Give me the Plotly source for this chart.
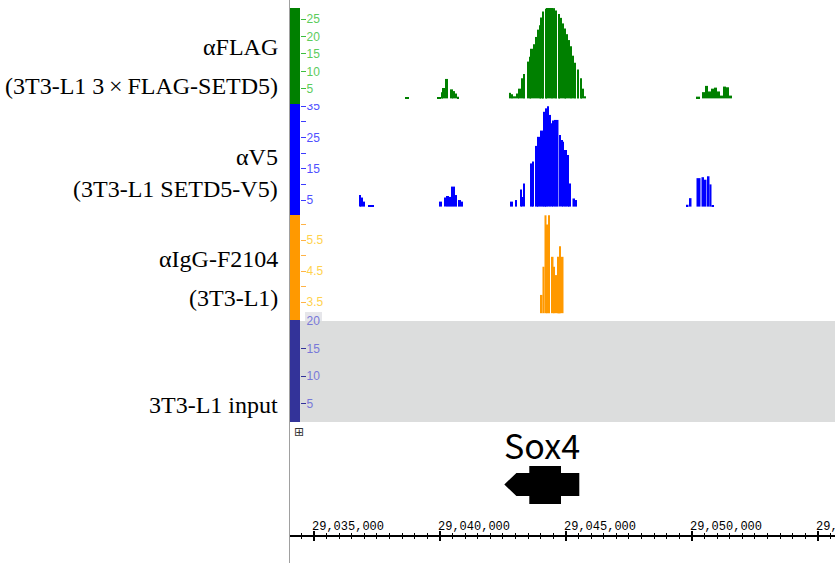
import plotly.graph_objects as go

# ---------------- data ----------------
view_start, view_end = 29034048, 29055675

flag_start = [29038611, 29039881, 29040040, 29040119, 29040198, 29040397, 29040516, 29040595, 29040675,
              29042738, 29042818, 29042897, 29043016, 29043135, 29043214, 29043294,
              29043452, 29043532, 29043611, 29043690, 29043770, 29043849, 29043929, 29044008, 29044087,
              29044167, 29044246, 29044325, 29044405, 29044484, 29044564,
              29044683, 29044762, 29044841, 29044921, 29045000, 29045079, 29045159, 29045238, 29045318,
              29045437, 29045556, 29045635, 29045714,
              29050159, 29050397, 29050516, 29050635, 29050754, 29050873, 29050992, 29051111, 29051230,
              29051349, 29051468]
flag_end = [29038770, 29040040, 29040119, 29040198, 29040317, 29040516, 29040595, 29040675, 29040754,
            29042818, 29042897, 29043016, 29043135, 29043214, 29043294, 29043373,
            29043532, 29043611, 29043690, 29043770, 29043849, 29043929, 29044008, 29044087, 29044127,
            29044246, 29044325, 29044405, 29044484, 29044564, 29044643,
            29044762, 29044841, 29044921, 29045000, 29045079, 29045159, 29045238, 29045318, 29045397,
            29045516, 29045635, 29045714, 29045794,
            29050317, 29050516, 29050635, 29050754, 29050873, 29050992, 29051111, 29051230, 29051349,
            29051468, 29051587]
flag_value = [2.5, 2.6, 4.0, 5.2, 7.8, 4.8, 4.3, 3.6, 2.7,
              3.8, 3.4, 2.8, 3.6, 5.0, 8.0, 9.2,
              12.8, 14.2, 16.5, 17.8, 19.9, 22.0, 23.3, 25.5, 27.2,
              28.0, 28.3, 28.6, 28.4, 28.2, 27.5,
              26.5, 25.4, 23.8, 22.3, 20.7, 19.0, 17.2, 14.5, 12.5,
              10.5, 8.0, 5.0, 2.8,
              2.7, 4.0, 5.8, 4.2, 5.0, 5.3, 4.2, 3.0, 5.6, 5.4, 3.0]

v5_start = [29036786, 29036865, 29036944, 29037143,
            29040000, 29040159, 29040238, 29040357, 29040437, 29040595, 29040754, 29040833,
            29042778, 29042976, 29043175, 29043254, 29043294, 29043571, 29043690, 29043770, 29043889,
            29043968, 29044127, 29044206, 29044266, 29044325, 29044405, 29044464, 29044524, 29044742,
            29044802, 29044861, 29044921, 29045040, 29045119, 29045258, 29045357,
            29049782, 29049901, 29050179, 29050377, 29050476, 29050595, 29050694, 29050774]
v5_end = [29036865, 29036944, 29037024, 29037381,
          29040079, 29040238, 29040357, 29040437, 29040595, 29040675, 29040833, 29040913,
          29042897, 29043056, 29043254, 29043294, 29043373, 29043690, 29043730, 29043889, 29043968,
          29044107, 29044206, 29044266, 29044325, 29044405, 29044464, 29044524, 29044702, 29044802,
          29044861, 29044921, 29045040, 29045119, 29045198, 29045357, 29045437,
          29049861, 29049980, 29050337, 29050476, 29050575, 29050694, 29050774, 29050873]
v5_value = [6.6, 5.8, 4.5, 3.3,
            4.5, 5.8, 6.3, 6.0, 9.3, 6.6, 5.0, 4.5,
            4.5, 5.0, 8.4, 6.0, 10.3, 16.7, 17.3, 22.3, 25.2,
            27.2, 33.2, 34.3, 35.0, 32.2, 29.5, 30.4, 30.6, 25.8,
            24.2, 23.6, 21.0, 19.4, 10.3, 5.5, 5.0,
            3.5, 5.6, 12.0, 12.3, 11.5, 12.6, 10.0, 3.4]

igg_start = [29043968, 29044067, 29044147, 29044226, 29044286, 29044405, 29044504, 29044564,
             29044663, 29044702, 29044742, 29044782]
igg_end = [29044067, 29044147, 29044226, 29044286, 29044345, 29044504, 29044564, 29044663,
           29044702, 29044742, 29044782, 29044901]
igg_value = [3.73, 4.64, 6.3, 6.0, 6.3, 4.96, 4.64, 4.37, 4.96, 4.7, 5.3, 4.96]

input_start, input_end, input_value = [], [], []

flag_ticks = [5, 10, 15, 20, 25]
flag_ticklabels = ["5", "10", "15", "20", "25"]
v5_ticks = [5, 10, 15, 20, 25, 30, 35]
v5_ticklabels = ["5", "", "15", "", "25", "", "35"]
igg_ticks = [3.5, 4.0, 4.5, 5.0, 5.5, 6.0]
igg_ticklabels = ["3.5", "", "4.5", "", "5.5", ""]
input_ticks = [5, 10, 15, 20]
input_ticklabels = ["5", "10", "15", "20"]

ruler_ticks = [29035000, 29040000, 29045000, 29050000, 29055000]
ruler_ticklabels = ["29,035,000", "29,040,000", "29,045,000", "29,050,000", "29,055,000"]

gene_name = "Sox4"
gene_tx_start, gene_cds_start, gene_cds_end, gene_tx_end = 29042552, 29043544, 29044802, 29045528

track_names = [["αFLAG", "(3T3-L1 3\u2009×\u2009FLAG-SETD5)"],
               ["αV5", "(3T3-L1 SETD5-V5)"],
               ["αIgG-F2104", "(3T3-L1)"],
               ["3T3-L1 input"]]

# ---------------- layout helpers ----------------
W, H = 835, 563
def px_x(p):
    return p / W
def px_y(p):
    return 1 - p / H

tracks = [
    dict(s=flag_start, e=flag_end, v=flag_value, base=2.2, color="#008000", top=8, bot=104,
         rng=[0.58, 28.24], ticks=flag_ticks, labels=flag_ticklabels,
         tickcol="#3fbf3f", labcol="#5ccc5c", names=track_names[0], name_y=[47, 86]),
    dict(s=v5_start, e=v5_end, v=v5_value, base=2.9, color="#0000ff", top=104, bot=215,
         rng=[0.22, 35.69], ticks=v5_ticks, labels=v5_ticklabels,
         tickcol="#3b3bff", labcol="#5050ff", names=track_names[1], name_y=[157, 189]),
    dict(s=igg_start, e=igg_end, v=igg_value, base=3.14, color="#ff9900", top=215, bot=320,
         rng=[2.92, 6.31], ticks=igg_ticks, labels=igg_ticklabels,
         tickcol="#ffb347", labcol="#ffd24d", names=track_names[2], name_y=[259, 298]),
    dict(s=input_start, e=input_end, v=input_value, base=0, color="#333399", top=320, bot=422,
         rng=[1.73, 20.1], ticks=input_ticks, labels=input_ticklabels,
         tickcol="#333399", labcol="#7878d8", names=track_names[3], name_y=[405]),
]

fig = go.Figure()
layout = dict(
    width=W, height=H, margin=dict(l=0, r=0, t=0, b=0, autoexpand=False),
    paper_bgcolor="white", plot_bgcolor="rgba(0,0,0,0)",
    showlegend=False, barmode="overlay",
)
shapes = []
annotations = []

for i, t in enumerate(tracks):
    yname = "y" if i == 0 else f"y{i+1}"
    ykey = "yaxis" if i == 0 else f"yaxis{i+1}"
    centers = [(a + b) / 2 for a, b in zip(t["s"], t["e"])]
    widths = [b - a for a, b in zip(t["s"], t["e"])]
    heights = [v - t["base"] for v in t["v"]]
    fig.add_trace(go.Bar(x=centers, y=heights, width=widths, base=t["base"],
                         marker=dict(color=t["color"], line=dict(width=0)),
                         xaxis="x", yaxis=yname, hoverinfo="skip"))
    layout[ykey] = dict(
        domain=[px_y(t["bot"]), px_y(t["top"])], range=t["rng"], anchor="free",
        position=px_x(300), side="left", showgrid=False, zeroline=False, showline=False,
        tickmode="array", tickvals=t["ticks"], ticktext=t["labels"],
        ticks="inside", ticklen=5, tickwidth=1, tickcolor=t["tickcol"],
        ticklabelposition="inside", ticklabeloverflow="allow", automargin=False,
        tickfont=dict(family="Liberation Sans, Arial", size=12, color=t["labcol"]),
        fixedrange=True,
    )
    # coloured strip at the left of each track
    shapes.append(dict(type="rect", xref="paper", yref="paper", x0=px_x(290), x1=px_x(300),
                       y0=px_y(t["bot"]), y1=px_y(t["top"]), fillcolor=t["color"],
                       line=dict(width=0), layer="below"))
    for name, ny in zip(t["names"], t["name_y"]):
        annotations.append(dict(text=name, xref="paper", yref="paper", x=px_x(280), y=px_y(ny),
                                xanchor="right", yanchor="middle", showarrow=False,
                                font=dict(family="Liberation Serif, Times New Roman", size=24,
                                          color="black")))

# grey background of the input track
shapes.append(dict(type="rect", xref="paper", yref="paper", x0=px_x(300), x1=1,
                   y0=px_y(422), y1=px_y(321), fillcolor="#dcdddd", line=dict(width=0),
                   layer="below"))
shapes.append(dict(type="rect", xref="paper", yref="paper", x0=px_x(305), x1=px_x(322),
                   y0=px_y(321), y1=px_y(312), fillcolor="#e6e6ea", line=dict(width=0),
                   layer="below"))
# mask top of V5 "35" label
shapes.append(dict(type="rect", xref="paper", yref="paper", x0=px_x(301), x1=px_x(330),
                   y0=px_y(104), y1=px_y(96), fillcolor="white", line=dict(width=0),
                   layer="above"))
# left border
shapes.append(dict(type="line", xref="paper", yref="paper", x0=px_x(289.5), x1=px_x(289.5),
                   y0=0, y1=1, line=dict(color="#a0a0a0", width=1)))

# gene model (minus strand arrow)
y_thin_top, y_thin_bot = px_y(473), px_y(496)
y_thick_top, y_thick_bot = px_y(466), px_y(504)
y_mid = px_y(484.5)
arrow_len = 480
xs = gene_tx_start + arrow_len
path = (f"M {gene_tx_start},{y_mid} L {xs},{y_thin_top} L {gene_cds_start},{y_thin_top} "
        f"L {gene_cds_start},{y_thick_top} L {gene_cds_end},{y_thick_top} L {gene_cds_end},{y_thin_top} "
        f"L {gene_tx_end},{y_thin_top} L {gene_tx_end},{y_thin_bot} L {gene_cds_end},{y_thin_bot} "
        f"L {gene_cds_end},{y_thick_bot} L {gene_cds_start},{y_thick_bot} L {gene_cds_start},{y_thin_bot} "
        f"L {xs},{y_thin_bot} Z")
shapes.append(dict(type="path", xref="x", yref="paper", path=path, fillcolor="black",
                   line=dict(width=0)))
annotations.append(dict(text=gene_name, xref="x", yref="paper",
                        x=(gene_tx_start + gene_tx_end) / 2, y=px_y(444),
                        xanchor="center", yanchor="middle", showarrow=False,
                        font=dict(family="Noto Sans CJK JP", size=34, color="black")))
annotations.append(dict(text="⊞", xref="paper", yref="paper", x=px_x(298.5), y=px_y(432),
                        xanchor="center", yanchor="middle", showarrow=False,
                        font=dict(family="DejaVu Sans", size=12, color="#333333")))

# ruler (genomic axis)
ruler_pos = px_y(536)
common = dict(range=[view_start, view_end], domain=[px_x(290), 1], anchor="free",
              position=ruler_pos, showgrid=False, zeroline=False, fixedrange=True,
              tickmode="array", tickvals=ruler_ticks, automargin=False)
minor = dict(dtick=500, tick0=29035000, ticks="outside", ticklen=2, tickwidth=1,
             tickcolor="black")
layout["xaxis"] = dict(common, side="top", showline=False, ticktext=ruler_ticklabels,
                       ticks="", ticklabelshift=34, ticklabeloverflow="allow",
                       tickfont=dict(family="Liberation Mono", size=12, color="black"))
layout["xaxis"]["position"] = px_y(532)
layout["xaxis2"] = dict(common, side="top", overlaying="x", showline=True, linecolor="black",
                        linewidth=2, showticklabels=False, ticks="outside", ticklen=4,
                        tickwidth=2, tickcolor="black", minor=minor)
layout["xaxis3"] = dict(common, side="bottom", overlaying="x", showline=False,
                        showticklabels=False, ticks="outside", ticklen=4, tickwidth=2,
                        tickcolor="black", minor=minor)
for xa in ["x2", "x3"]:
    fig.add_trace(go.Scatter(x=[view_start], y=[5], xaxis=xa, yaxis="y4", mode="markers",
                             marker=dict(opacity=0), hoverinfo="skip"))

layout["shapes"] = shapes
layout["annotations"] = annotations
fig.update_layout(**layout)
fig.write_html("out.html")
